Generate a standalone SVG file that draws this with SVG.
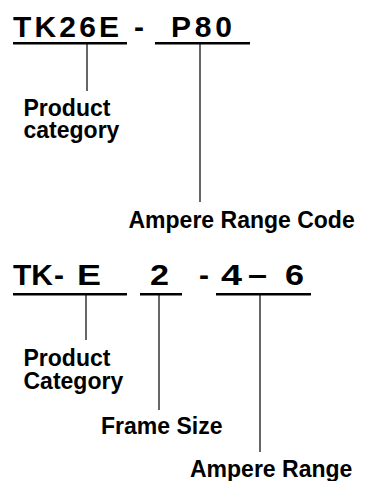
<svg xmlns="http://www.w3.org/2000/svg" width="366" height="481" viewBox="0 0 366 481">
<style>
.t{font-family:"Liberation Sans",Arial,sans-serif;font-weight:bold;font-size:30px;fill:#000}
.l{font-family:"Liberation Sans",Arial,sans-serif;font-weight:bold;font-size:23px;fill:#000}
.u{stroke:#000;stroke-width:2.5;fill:none}
.c{stroke:#000;stroke-width:1.2;fill:none}
</style>
<rect width="366" height="481" fill="#fff"/>
<g id="code1">
<text class="t" x="13" y="36.5" textLength="106" lengthAdjust="spacing">TK26E</text>
<text class="t" x="134" y="36.5">-</text>
<text class="t" x="171" y="36.5" textLength="61" lengthAdjust="spacing">P80</text>
<line class="u" x1="13" y1="43.3" x2="127" y2="43.3"/>
<line class="u" x1="155" y1="43.3" x2="250" y2="43.3"/>
</g>
<g id="label-product-category">
<text class="l" x="23.5" y="115.5">Product</text>
<text class="l" x="23.5" y="138">category</text>
</g>
<g id="label-ampere-range-code">
<text class="l" x="128.5" y="227.5">Ampere Range Code</text>
</g>
<g id="code2">
<text class="t" x="13" y="284.5" textLength="40" lengthAdjust="spacing">TK</text>
<text class="t" x="54" y="284.5">-</text>
<text class="t" x="77" y="284.5" textLength="24" lengthAdjust="spacingAndGlyphs">E</text>
<text class="t" x="150" y="284.5" textLength="19" lengthAdjust="spacingAndGlyphs">2</text>
<text class="t" x="199" y="284.5">-</text>
<text class="t" x="221" y="284.5" textLength="21" lengthAdjust="spacingAndGlyphs">4</text>
<text class="t" x="248" y="284.5" textLength="19" lengthAdjust="spacingAndGlyphs">–</text>
<text class="t" x="285" y="284.5" textLength="19" lengthAdjust="spacingAndGlyphs">6</text>
<line class="u" x1="13" y1="294.3" x2="127" y2="294.3"/>
<line class="u" x1="140" y1="294.3" x2="182" y2="294.3"/>
<line class="u" x1="216" y1="294.3" x2="311" y2="294.3"/>
</g>
<g id="label-product-category-2">
<text class="l" x="23.5" y="366">Product</text>
<text class="l" x="23.5" y="388.5">Category</text>
</g>
<g id="label-frame-size">
<text class="l" x="101" y="434">Frame Size</text>
</g>
<g id="label-ampere-range">
<text class="l" x="190" y="476.5">Ampere Range</text>
</g>
<g id="connectors">
<line class="c" x1="87" y1="43" x2="87" y2="91"/>
<line class="c" x1="200" y1="43" x2="200" y2="202"/>
<line class="c" x1="86" y1="294" x2="86" y2="340"/>
<line class="c" x1="159" y1="294" x2="159" y2="410"/>
<line class="c" x1="260" y1="294" x2="260" y2="452"/>
</g>
</svg>
